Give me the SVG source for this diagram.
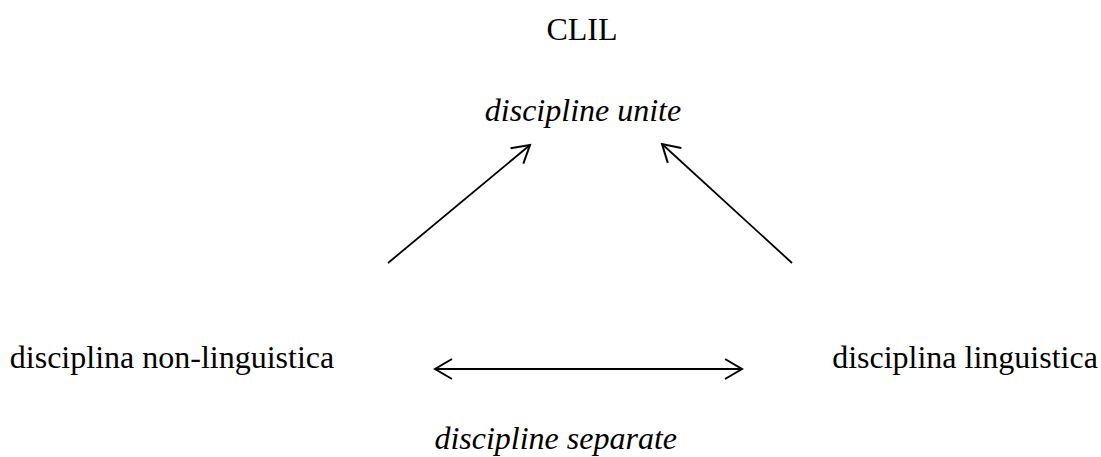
<svg xmlns="http://www.w3.org/2000/svg" width="1101" height="457" viewBox="0 0 1101 457">
<style>
text{font-family:"Liberation Serif","Times New Roman",serif;font-size:32px;fill:#000}
.it{font-style:italic}
.c{stroke:#000;stroke-width:1.8;fill:none}
</style>
<defs>
<marker id="ah" markerWidth="22" markerHeight="24" refX="18" refY="11" orient="auto-start-reverse" markerUnits="userSpaceOnUse">
<path d="M1,1 L18,11 L1,21" fill="none" stroke="#000" stroke-width="2"/>
</marker>
</defs>
<rect width="1101" height="457" fill="#fff"/>
<g id="clil"><text x="582" y="40" text-anchor="middle">CLIL</text></g>
<g id="unite"><text class="it" x="583" y="121" text-anchor="middle">discipline unite</text></g>
<g id="nonling"><text x="172" y="368" text-anchor="middle">disciplina non-linguistica</text></g>
<g id="ling"><text x="965" y="368" text-anchor="middle">disciplina linguistica</text></g>
<g id="separate"><text class="it" x="677" y="449" text-anchor="end">discipline separate</text></g>
<g id="connectors">
<line class="c" x1="388" y1="263" x2="530" y2="145" marker-end="url(#ah)"/>
<line class="c" x1="792" y1="263" x2="662" y2="144" marker-end="url(#ah)"/>
<line class="c" x1="435" y1="369" x2="742" y2="369" marker-start="url(#ah)" marker-end="url(#ah)"/>
</g>
</svg>
